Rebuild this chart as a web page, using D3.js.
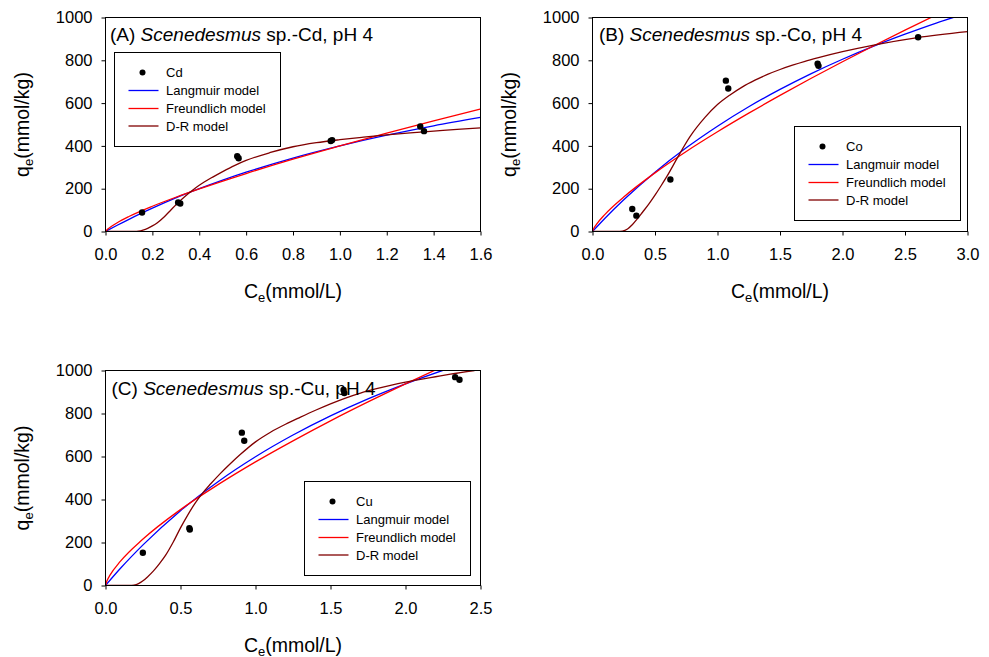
<!DOCTYPE html>
<html><head><meta charset="utf-8">
<script src="https://cdn.jsdelivr.net/npm/d3@7"></script>
<style>
html,body{margin:0;padding:0;background:#fff;}
svg{display:block;font-family:"Liberation Sans",Arial,sans-serif;}
</style></head><body>
<svg id="chart" width="989" height="657"></svg>
<script>
// ---- Measured sorption data, [Ce (mmol/L), qe (mmol/kg)] ----
const cdPoints = [[0.156,89],[0.310,136],[0.319,131],[0.562,352],[0.568,342],[0.961,423],[0.967,427],[1.343,491],[1.359,469]];
const coPoints = [[0.318,105],[0.351,74],[0.623,243],[1.067,705],[1.086,668],[1.801,784],[1.808,774],[2.605,908]];
const cuPoints = [[0.249,152],[0.559,267],[0.562,260],[0.909,711],[0.925,673],[1.587,909],[1.592,895],[2.331,969],[2.360,957]];

// ---- Fitted isotherm curves, sampled along Ce ----
const cdLangmuir = [[0,0],[0.05,29],[0.1,57],[0.2,109],[0.3,157],[0.4,200],[0.5,240],[0.6,277],[0.8,343],[1.0,400],[1.2,450],[1.4,494],[1.6,533]];
const cdFreundlich = [[0,0],[0.01,12],[0.02,20],[0.05,41],[0.1,70],[0.2,118],[0.3,160],[0.4,199],[0.6,271],[0.8,338],[1.0,400],[1.2,460],[1.4,517],[1.6,572]];
const cdDR = [[0,0],[0.1,0],[0.12,0.5],[0.14,2],[0.16,7],[0.18,15],[0.2,26],[0.22,40],[0.25,68],[0.28,102],[0.31,135],[0.34,165],[0.37,192],[0.4,216],[0.45,250],[0.5,280],[0.55,308],[0.6,332],[0.7,368],[0.8,396],[0.9,415],[1.0,429],[1.1,441],[1.2,452],[1.3,461],[1.4,469],[1.5,477],[1.6,484]];

const coLangmuir = [[0,0],[0.1,62],[0.25,148],[0.5,277],[0.75,391],[1.0,492],[1.25,583],[1.5,664],[1.75,738],[2.0,805],[2.25,866],[2.5,922],[2.75,974],[3.0,1021]];
const coFreundlich = [[0,0],[0.01,14],[0.03,32],[0.1,80],[0.25,161],[0.5,274],[0.75,374],[1.0,466],[1.25,553],[1.5,636],[1.75,716],[2.0,793],[2.25,868],[2.5,941],[2.75,1012]];
const coDR = [[0,0],[0.2,0],[0.24,2],[0.28,12],[0.32,33],[0.36,60],[0.4,90],[0.45,128],[0.5,170],[0.55,215],[0.6,262],[0.68,345],[0.78,443],[0.9,533],[1.0,593],[1.1,638],[1.2,676],[1.3,707],[1.4,734],[1.5,757],[1.6,777],[1.7,795],[1.8,811],[2.0,840],[2.26,872],[2.6,906],[3.0,934]];

const cuLangmuir = [[0,0],[0.1,80],[0.25,189],[0.5,348],[0.75,483],[1.0,599],[1.25,700],[1.5,789],[1.75,868],[2.0,938],[2.25,1001],[2.5,1058]];
const cuFreundlich = [[0,0],[0.01,22],[0.03,48],[0.1,113],[0.25,216],[0.5,353],[0.75,469],[1.0,575],[1.25,673],[1.5,766],[1.75,854],[2.0,938],[2.25,1019]];
const cuDR = [[0,0],[0.16,0],[0.19,2],[0.22,9],[0.25,22],[0.28,40],[0.32,68],[0.36,102],[0.4,140],[0.45,200],[0.5,268],[0.55,330],[0.6,385],[0.65,432],[0.7,472],[0.76,517],[0.83,565],[0.9,610],[1.0,668],[1.1,713],[1.2,750],[1.3,783],[1.4,815],[1.5,845],[1.6,872],[1.7,895],[1.8,914],[1.9,931],[2.0,946],[2.1,959],[2.2,971],[2.3,983],[2.46,1000]];

// ---- Axis ticks and labels ----
const yTickValues = [0,200,400,600,800,1000];
const xTicksCd = [0,0.2,0.4,0.6,0.8,1.0,1.2,1.4,1.6];
const xTicksCo = [0,0.5,1.0,1.5,2.0,2.5,3.0];
const xTicksCu = [0,0.5,1.0,1.5,2.0,2.5];
const modelNames = ["Langmuir model","Freundlich model","D-R model"];

const svg = d3.select("#chart");
const FONT = '"Liberation Sans", Arial, sans-serif';

const panels = [
  {key:"A", metal:"Cd", L:105.5, R:480.5, T:17.5, B:231.5, xMax:1.6, ticks:xTicksCd,
   pts:cdPoints, lang:cdLangmuir, freu:cdFreundlich, dr:cdDR, legend:[114.5,52.5], title:[110,40.5]},
  {key:"B", metal:"Co", L:592.5, R:967.5, T:17.5, B:231.5, xMax:3.0, ticks:xTicksCo,
   pts:coPoints, lang:coLangmuir, freu:coFreundlich, dr:coDR, legend:[794.5,126.5], title:[599,41]},
  {key:"C", metal:"Cu", L:105.5, R:480.5, T:370.5, B:585.5, xMax:2.5, ticks:xTicksCu,
   pts:cuPoints, lang:cuLangmuir, freu:cuFreundlich, dr:cuDR, legend:[304.5,481.5], title:[111.5,394.5]}
];

const modelStyles = [
  {color:"#0000ff", key:"lang"},
  {color:"#ff0000", key:"freu"},
  {color:"#800000", key:"dr"}
];

panels.forEach(p => {
  const x = d3.scaleLinear().domain([0, p.xMax]).range([p.L, p.R]);
  const y = d3.scaleLinear().domain([0, 1000]).range([p.B, p.T]);
  const g = svg.append("g");

  const clipId = "clip" + p.key;
  svg.append("clipPath").attr("id", clipId)
    .append("rect").attr("x", p.L).attr("y", p.T).attr("width", p.R - p.L).attr("height", p.B - p.T);

  // model curves
  const line = d3.line().x(d => x(d[0])).y(d => y(d[1])).curve(d3.curveMonotoneX);
  const curves = g.append("g").attr("clip-path", `url(#${clipId})`);
  modelStyles.forEach(m => {
    curves.append("path").datum(p[m.key])
      .attr("d", line).attr("fill", "none")
      .attr("stroke", m.color).attr("stroke-width", 1.3);
  });

  // measured points
  g.append("g").selectAll("circle").data(p.pts).join("circle")
    .attr("cx", d => x(d[0])).attr("cy", d => y(d[1])).attr("r", 3.2).attr("fill", "#000");

  // axes
  const xAxis = d3.axisBottom(x).tickValues(p.ticks).tickFormat(d3.format(".1f"))
    .tickSize(4).tickSizeOuter(0).tickPadding(13);
  const yAxis = d3.axisLeft(y).tickValues(yTickValues).tickFormat(d3.format("d"))
    .tickSize(4).tickSizeOuter(0).tickPadding(9);
  const gx = g.append("g").attr("transform", `translate(0,${p.B})`).call(xAxis);
  const gy = g.append("g").attr("transform", `translate(${p.L},0)`).call(yAxis);
  [gx, gy].forEach(a => {
    a.select(".domain").remove();
    a.selectAll("text").attr("font-size", 16.5).attr("font-family", FONT).attr("fill", "#000");
    a.selectAll("line").attr("stroke", "#000");
  });

  // frame
  g.append("rect").attr("x", p.L).attr("y", p.T).attr("width", p.R - p.L).attr("height", p.B - p.T)
    .attr("fill", "none").attr("stroke", "#000").attr("stroke-width", 1);

  // panel title
  const t = g.append("text").attr("x", p.title[0]).attr("y", p.title[1])
    .attr("font-size", 19).attr("fill", "#000");
  t.append("tspan").text(`(${p.key}) `);
  t.append("tspan").attr("font-style", "italic").text("Scenedesmus");
  t.append("tspan").text(` sp.-${p.metal}, pH 4`);

  // axis titles
  const cx = (p.L + p.R) / 2, cy = (p.T + p.B) / 2;
  const xl = g.append("text").attr("x", cx).attr("y", p.B + 66)
    .attr("text-anchor", "middle").attr("font-size", 19.5).attr("fill", "#000");
  xl.append("tspan").text("C");
  xl.append("tspan").attr("font-size", 13).attr("dy", 4).text("e");
  xl.append("tspan").attr("dy", -4).text("(mmol/L)");

  const yl = g.append("text").attr("transform", `translate(${p.L - 76.5},${cy}) rotate(-90)`)
    .attr("text-anchor", "middle").attr("font-size", 19.5).attr("fill", "#000");
  yl.append("tspan").text("q");
  yl.append("tspan").attr("font-size", 13).attr("dy", 4).text("e");
  yl.append("tspan").attr("dy", -4).text("(mmol/kg)");

  // legend
  const [lx, ly] = p.legend;
  const lg = g.append("g");
  lg.append("rect").attr("x", lx).attr("y", ly).attr("width", 166).attr("height", 94)
    .attr("fill", "#fff").attr("stroke", "#000").attr("stroke-width", 1);
  const rows = [20, 38, 56, 73.5];
  lg.append("circle").attr("cx", lx + 28).attr("cy", ly + rows[0]).attr("r", 3).attr("fill", "#000");
  lg.append("text").attr("x", lx + 51.5).attr("y", ly + rows[0]).attr("dy", "0.35em")
    .attr("font-size", 13).attr("fill", "#000").text(p.metal);
  modelNames.forEach((name, i) => {
    const ry = ly + rows[i + 1];
    lg.append("line").attr("x1", lx + 14).attr("x2", lx + 44).attr("y1", ry).attr("y2", ry)
      .attr("stroke", modelStyles[i].color).attr("stroke-width", 1.3);
    lg.append("text").attr("x", lx + 51.5).attr("y", ry).attr("dy", "0.35em")
      .attr("font-size", 13).attr("fill", "#000").text(name);
  });
});
</script>
</body></html>
